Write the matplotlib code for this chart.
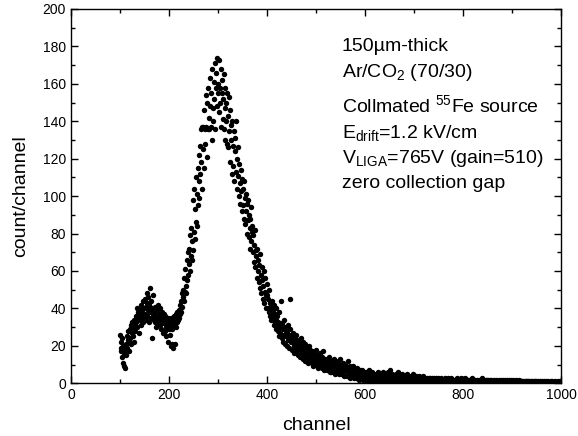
import numpy as np
import matplotlib
matplotlib.use('Agg')
import matplotlib.pyplot as plt
from matplotlib.ticker import MultipleLocator

plt.rcParams['font.family'] = ['Liberation Sans', 'DejaVu Sans']
plt.rcParams['mathtext.fontset'] = 'custom'
plt.rcParams['mathtext.rm'] = 'Liberation Sans'
plt.rcParams['mathtext.it'] = 'Liberation Sans:italic'

# pulse height spectrum, one value per channel (100 ... 1000)
channel = np.arange(100, 1001)
counts = [
    26, 19, 22, 17, 24, 14, 20, 11, 16, 9,
    18, 8, 21, 15, 25, 19, 23, 28, 17, 22,
    29, 24, 31, 21, 27, 33, 25, 30, 22, 34,
    32, 28, 36, 33, 40, 30, 35, 38, 27, 37,
    34, 39, 31, 42, 36, 38, 33, 44, 35, 40,
    37, 45, 34, 41, 48, 36, 43, 39, 46, 33,
    42, 51, 38, 35, 44, 24, 40, 36, 47, 34,
    38, 33, 41, 36, 30, 39, 35, 42, 32, 37,
    34, 40, 31, 36, 29, 38, 33, 35, 27, 37,
    32, 28, 36, 30, 25, 34, 31, 22, 35, 29,
    33, 26, 31, 20, 35, 29, 21, 34, 30, 19,
    36, 32, 21, 35, 30, 37, 33, 38, 34, 36,
    35, 39, 42, 37, 44, 38, 48, 41, 46, 50,
    44, 56, 49, 61, 52, 48, 66, 55, 70, 58,
    64, 72, 60, 79, 68, 83, 66, 76, 98, 71,
    81, 104, 77, 93, 86, 110, 84, 101, 115, 95,
    108, 122, 99, 127, 112, 136, 118, 104, 137, 125,
    137, 115, 146, 136, 128, 154, 137, 121, 150, 136,
    158, 142, 136, 163, 148, 137, 155, 130, 168, 147,
    140, 161, 152, 171, 136, 158, 166, 148, 174, 155,
    160, 173, 145, 158, 150, 168, 137, 155, 162, 141,
    152, 165, 136, 147, 158, 130, 150, 140, 155, 128,
    143, 126, 153, 135, 118, 146, 130, 138, 112, 140,
    127, 116, 135, 108, 124, 131, 113, 140, 104, 120,
    111, 126, 100, 117, 107, 96, 114, 103, 109, 92,
    104, 95, 108, 88, 99, 85, 101, 92, 80, 96,
    87, 98, 78, 90, 83, 72, 88, 94, 76, 81,
    84, 70, 79, 65, 74, 82, 62, 71, 68, 56,
    72, 60, 66, 54, 63, 69, 51, 58, 48, 62,
    55, 45, 52, 60, 43, 49, 56, 40, 47, 53,
    47, 40, 45, 38, 50, 36, 43, 34, 41, 37,
    44, 35, 39, 31, 42, 33, 37, 29, 40, 34,
    31, 36, 28, 33, 25, 38, 30, 27, 44, 26,
    32, 24, 29, 22, 34, 26, 30, 21, 28, 25,
    27, 20, 31, 23, 26, 19, 29, 45, 24, 22,
    25, 18, 23, 27, 20, 16, 24, 21, 19, 26,
    22, 17, 20, 15, 23, 19, 21, 14, 24, 18,
    20, 16, 19, 13, 22, 17, 15, 21, 12, 18,
    17, 14, 19, 11, 16, 20, 13, 15, 18, 12,
    15, 11, 17, 13, 9, 16, 12, 14, 10, 18,
    13, 10, 15, 8, 12, 14, 9, 16, 11, 13,
    12, 8, 14, 10, 17, 11, 7, 13, 9, 12,
    11, 7, 13, 9, 12, 8, 14, 10, 6, 11,
    10, 6, 12, 8, 11, 7, 13, 9, 5, 10,
    9, 12, 6, 10, 7, 11, 5, 9, 8, 13,
    8, 5, 10, 7, 11, 6, 9, 4, 8, 10,
    7, 9, 4, 8, 6, 12, 5, 7, 3, 9,
    6, 8, 4, 7, 5, 9, 3, 6, 8, 4,
    5, 7, 3, 6, 8, 4, 6, 2, 5, 7,
    4, 6, 3, 5, 7, 2, 4, 6, 3, 5,
    4, 2, 6, 3, 5, 1, 4, 7, 3, 2,
    5, 3, 1, 4, 6, 2, 3, 5, 1, 4,
    3, 5, 2, 4, 1, 6, 3, 2, 4, 5,
    2, 4, 3, 1, 5, 3, 2, 6, 4, 1,
    3, 5, 2, 4, 1, 3, 6, 2, 4, 3,
    7, 2, 4, 1, 3, 5, 2, 4, 1, 3,
    4, 2, 5, 1, 3, 2, 4, 6, 1, 3,
    2, 4, 1, 3, 5, 2, 3, 1, 4, 2,
    3, 1, 4, 2, 3, 5, 1, 2, 4, 3,
    1, 3, 2, 4, 1, 3, 2, 5, 1, 2,
    3, 1, 2, 4, 1, 2, 3, 1, 2, 4,
    2, 1, 3, 2, 0, 3, 1, 2, 4, 1,
    2, 3, 1, 2, 1, 3, 2, 0, 2, 3,
    1, 2, 3, 1, 2, 0, 3, 2, 1, 2,
    3, 1, 2, 1, 3, 2, 0, 2, 1, 3,
    2, 1, 0, 2, 3, 1, 2, 1, 2, 0,
    1, 2, 3, 1, 0, 2, 1, 2, 3, 1,
    2, 0, 1, 2, 1, 3, 1, 0, 2, 1,
    1, 2, 0, 1, 2, 1, 3, 1, 0, 2,
    2, 1, 1, 0, 2, 3, 1, 2, 0, 1,
    1, 2, 0, 1, 3, 1, 2, 0, 1, 2,
    0, 1, 2, 1, 0, 2, 1, 3, 1, 0,
    2, 1, 0, 1, 2, 1, 0, 2, 1, 1,
    0, 2, 1, 0, 1, 2, 1, 0, 3, 1,
    1, 0, 2, 1, 0, 1, 2, 1, 0, 2,
    2, 1, 0, 1, 2, 0, 1, 2, 1, 0,
    1, 0, 2, 1, 1, 0, 2, 1, 0, 1,
    0, 1, 2, 0, 1, 1, 0, 2, 1, 0,
    1, 2, 0, 1, 0, 2, 1, 0, 1, 2,
    0, 1, 1, 2, 0, 1, 0, 1, 2, 0,
    1, 0, 2, 1, 0, 1, 1, 0, 2, 1,
    0, 1, 0, 1, 2, 0, 1, 0, 1, 0,
    1, 0, 1, 0, 0, 1, 0, 1, 0, 1,
    0, 0, 1, 0, 1, 0, 0, 1, 0, 0,
    1, 0, 0, 1, 0, 0, 1, 0, 0, 1,
    0, 0, 1, 0, 0, 0, 1, 0, 0, 0,
    1, 0, 0, 0, 1, 0, 0, 0, 0, 1,
    0, 0, 0, 1, 0, 0, 0, 0, 1, 0,
    0, 1, 0, 0, 0, 0, 1, 0, 0, 0,
    0, 0, 1, 0, 0, 0, 0, 0, 1, 0,
    1,
]

notes = [
    '150\u00b5m-thick',
    r'Ar/CO$_{2}$ (70/30)',
    r'Collmated $^{55}$Fe source',
    r'E$_{\mathrm{drift}}$=1.2 kV/cm',
    r'V$_{\mathrm{LIGA}}$=765V (gain=510)',
    'zero collection gap',
]
note_y = [177.6, 163.5, 144.8, 131.3, 117.8, 104.2]

fig = plt.figure(figsize=(5.78, 4.36), dpi=100)
ax = fig.add_axes([0.1228, 0.1209, 0.9714 - 0.1228, 0.9794 - 0.1209])

ax.plot(channel, counts, 'o', color='black', ms=3.9, mec='black', mew=0)

ax.set_xlim(0, 1000)
ax.set_ylim(0, 200)
ax.xaxis.set_major_locator(MultipleLocator(200))
ax.xaxis.set_minor_locator(MultipleLocator(100))
ax.yaxis.set_major_locator(MultipleLocator(20))
ax.yaxis.set_minor_locator(MultipleLocator(10))
ax.tick_params(which='both', direction='in', top=True, right=True,
               labelsize=10, width=1)
ax.tick_params(which='major', length=5)
ax.tick_params(which='minor', length=3)
for s in ax.spines.values():
    s.set_linewidth(1)

ax.set_xlabel('channel', fontsize=14, labelpad=11)
ax.set_ylabel('count/channel', fontsize=14, labelpad=10)

for txt, y in zip(notes, note_y):
    ax.text(552, y, txt, fontsize=14, va='baseline', ha='left')

fig.savefig('out.png', dpi=100)
